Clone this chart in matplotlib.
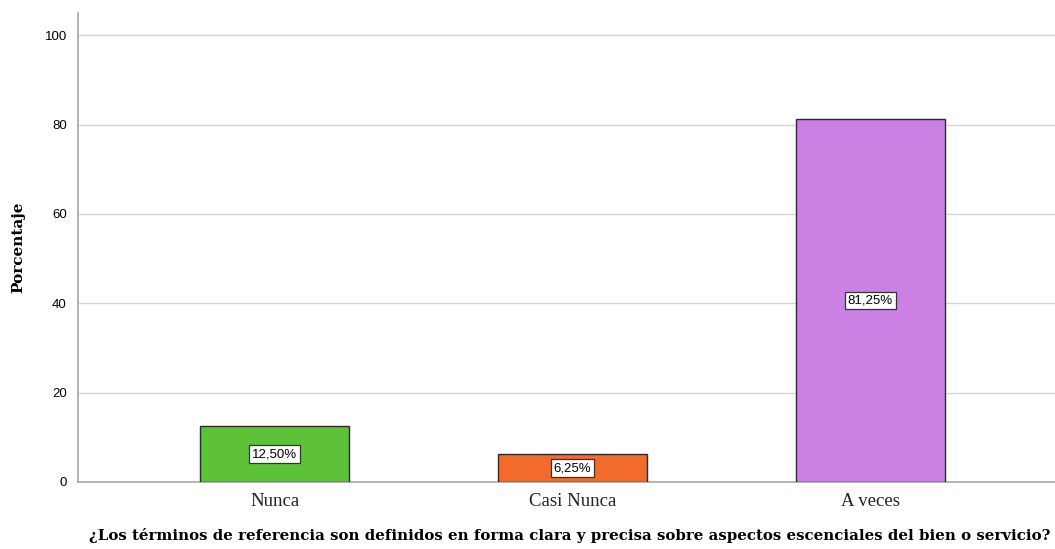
import matplotlib
matplotlib.use("Agg")
import matplotlib.pyplot as plt

categories = ["Nunca", "Casi Nunca", "A veces"]
values = [12.50, 6.25, 81.25]
value_labels = ["12,50%", "6,25%", "81,25%"]
colors = ["#5ec238", "#f26a2c", "#cb80e3"]
yticks = [0, 20, 40, 60, 80, 100]

fig = plt.figure(figsize=(10.55, 5.49), dpi=100)
ax = fig.add_axes([78/1055, 67/549, 1 - 78/1055, (482-13)/549])

x = list(range(len(categories)))
ax.bar(x, values, width=0.5, color=colors, edgecolor="#2b2b2b", linewidth=1.0, zorder=3)

for xi, v, lab in zip(x, values, value_labels):
    ax.text(xi, v / 2, lab, ha="center", va="center", fontsize=9.5,
            family="Liberation Sans", zorder=4,
            bbox=dict(boxstyle="square,pad=0.2", facecolor="white", edgecolor="#333333", linewidth=0.9))

ax.set_xlim(-0.66, 2.62)
ax.set_ylim(0, 105)
ax.set_yticks(yticks)
ax.set_yticklabels([str(t) for t in yticks], family="Liberation Sans", fontsize=9.5)
ax.set_xticks(x)
ax.set_xticklabels(categories, family="Liberation Serif", fontsize=13.5, color="#222222")
ax.tick_params(axis="y", length=0, pad=8)
ax.tick_params(axis="x", length=0, pad=8)

ax.yaxis.grid(True, color="#d4d4d4", linewidth=1.0, zorder=0)
ax.set_axisbelow(True)
for s in ["top", "right"]:
    ax.spines[s].set_visible(False)
ax.spines["left"].set_color("#a8a8a8")
ax.spines["bottom"].set_color("#a8a8a8")
ax.spines["left"].set_linewidth(1.2)
ax.spines["bottom"].set_linewidth(1.2)

fig.text(18/1055, (549 - 247)/549, "Porcentaje", family="DejaVu Serif", fontweight="bold",
         fontsize=11, rotation=90, ha="center", va="center")
fig.text(570/1055, (549 - 540)/549,
         "¿Los términos de referencia son definidos en forma clara y precisa sobre aspectos escenciales del bien o servicio?",
         family="DejaVu Serif", fontweight="bold", fontsize=10.8, ha="center", va="baseline")

fig.savefig("out.png", dpi=100)
